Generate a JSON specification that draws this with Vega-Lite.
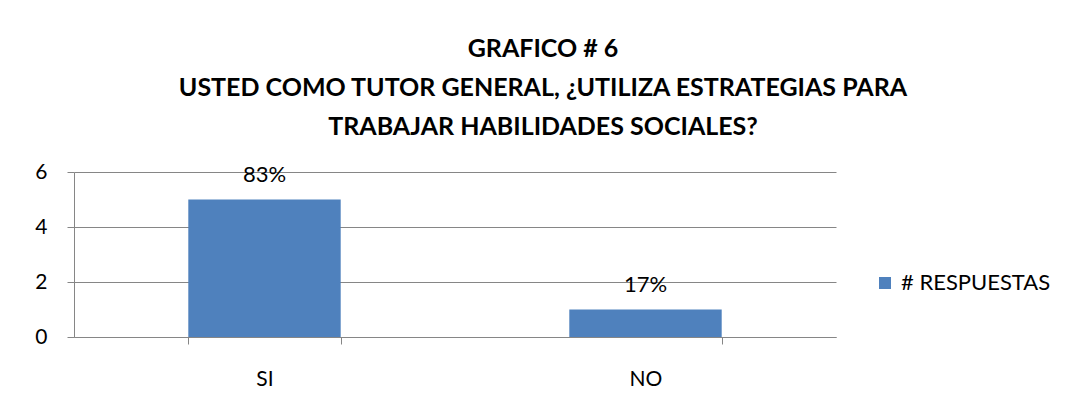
{
  "$schema": "https://vega.github.io/schema/vega-lite/v6.json",
  "width": 762,
  "height": 165,
  "autosize": {"type": "none"},
  "padding": {"left": 74, "top": 172, "right": 230, "bottom": 79},
  "background": "white",
  "title": {
    "text": ["GRAFICO # 6", "USTED COMO TUTOR GENERAL, ¿UTILIZA ESTRATEGIAS PARA", "TRABAJAR HABILIDADES SOCIALES?"],
    "font": "Lato",
    "fontSize": 25,
    "fontWeight": "bold",
    "lineHeight": 39,
    "color": "#000000",
    "anchor": "middle",
    "frame": "group",
    "dx": 88,
    "offset": 21
  },
  "data": {
    "values": [
      {"respuesta": "SI", "n": 5, "pct": "83%", "serie": "# RESPUESTAS"},
      {"respuesta": "NO", "n": 1, "pct": "17%", "serie": "# RESPUESTAS"}
    ]
  },
  "encoding": {
    "x": {
      "field": "respuesta",
      "type": "nominal",
      "sort": ["SI", "NO"],
      "scale": {"paddingInner": 0.6, "paddingOuter": 0.3},
      "axis": {
        "title": null,
        "labelAngle": 0,
        "labelFont": "Lato",
        "labelFontSize": 21,
        "labelColor": "#000000",
        "labelPadding": 24,
        "tickBand": "extent",
        "tickSize": 7,
        "tickColor": "#868686",
        "domainColor": "#868686",
        "grid": false
      }
    },
    "y": {
      "field": "n",
      "type": "quantitative",
      "scale": {"domain": [0, 6], "nice": false},
      "axis": {
        "title": null,
        "values": [0, 2, 4, 6],
        "labelFont": "Lato",
        "labelFontSize": 21,
        "labelColor": "#000000",
        "labelPadding": 20,
        "tickSize": 7,
        "tickColor": "#868686",
        "domainColor": "#868686",
        "gridColor": "#868686",
        "grid": true
      }
    }
  },
  "layer": [
    {
      "mark": {"type": "bar"},
      "encoding": {
        "color": {
          "field": "serie",
          "type": "nominal",
          "scale": {"range": ["#4F81BD"]},
          "legend": {
            "title": null,
            "orient": "none",
            "legendX": 800,
            "legendY": 100,
            "symbolType": "square",
            "symbolSize": 144,
            "symbolStrokeWidth": 0,
            "labelFont": "Lato",
            "labelFontSize": 22,
            "labelColor": "#000000",
            "labelOffset": 5
          }
        }
      }
    },
    {
      "mark": {"type": "text", "dy": -25, "font": "Lato", "fontSize": 22, "color": "#000000", "baseline": "middle"},
      "encoding": {"text": {"field": "pct"}}
    }
  ],
  "config": {"view": {"stroke": null}}
}
